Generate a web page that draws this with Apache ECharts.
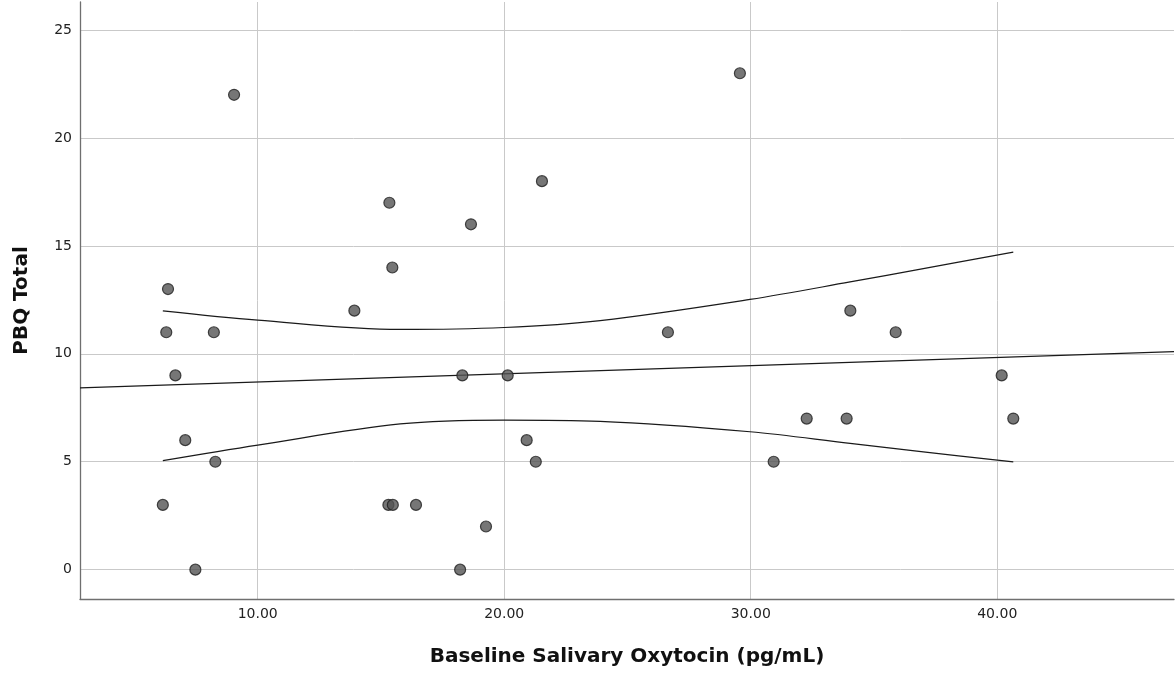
<!DOCTYPE html>
<html>
<head>
<meta charset="utf-8">
<title>PBQ Total vs Baseline Salivary Oxytocin</title>
<script src="https://cdn.jsdelivr.net/npm/echarts@6/dist/echarts.min.js"></script>
<style>
  html, body { margin: 0; padding: 0; background: #ffffff; }
  #chart { width: 1175px; height: 677px; }
</style>
</head>
<body>
<div id="chart"></div>
<script>
// Observations: baseline salivary oxytocin (pg/mL) and PBQ total score
const oxytocin = [9.04, 29.56, 15.34, 21.53, 18.65, 15.46, 6.36, 13.92, 6.29, 8.22,
                  26.64, 34.04, 35.88, 6.66, 18.30, 20.14, 40.18, 40.65, 32.27, 33.89,
                  7.06, 20.91, 8.28, 21.28, 30.93, 6.15, 15.30, 15.48, 16.42, 19.26,
                  7.47, 18.21];
const pbqTotal = [22, 23, 17, 18, 16, 14, 13, 12, 11, 11,
                  11, 12, 11, 9, 9, 9, 9, 7, 7, 7,
                  6, 6, 5, 5, 5, 3, 3, 3, 3, 2,
                  0, 0];

// Fitted linear regression line, across the full x range
const fitX = [2.79, 47.17];
const fitY = [8.42, 10.10];

// 95% confidence band of the mean, over the observed x range
const bandX = [6.15, 10.00, 15.78, 20.00, 23.89, 29.97, 34.03, 37.00, 40.65];
const upperY = [11.99, 11.56, 11.13, 11.22, 11.54, 12.52, 13.33, 13.95, 14.71];
const lowerY = [5.05, 5.77, 6.75, 6.93, 6.87, 6.39, 5.85, 5.46, 4.99];

// Axis ticks
const xTicks = [10, 20, 30, 40];
const yTicks = [0, 5, 10, 15, 20, 25];

const pair = (xs, ys) => xs.map((x, i) => [x, ys[i]]);

const chart = echarts.init(document.getElementById('chart'), null, { renderer: 'canvas' });

const labelFont = { fontFamily: 'DejaVu Sans', fontSize: 14, color: '#222' };
const titleFont = { fontFamily: 'DejaVu Sans', fontSize: 20, fontWeight: 'bold', color: '#111' };
const gridLine = { show: true, lineStyle: { color: '#c9c9c9', width: 1 } };

const lineStyle = { color: '#1a1a1a', width: 1.2 };

chart.setOption({
  animation: false,
  backgroundColor: '#ffffff',
  grid: { left: 80, right: 1, top: 2, bottom: 78, containLabel: false },
  xAxis: {
    type: 'value',
    min: 2.79,
    max: 47.17,
    name: 'Baseline Salivary Oxytocin (pg/mL)',
    nameLocation: 'middle',
    nameGap: 48,
    nameTextStyle: titleFont,
    axisLine: { show: true, onZero: false, lineStyle: { color: '#6f6f6f', width: 1.3 } },
    axisTick: { show: false, customValues: xTicks },
    axisLabel: { customValues: xTicks, margin: 8, formatter: v => v.toFixed(2), ...labelFont },
    splitLine: gridLine
  },
  yAxis: {
    type: 'value',
    min: -1.36,
    max: 26.3,
    name: 'PBQ Total',
    nameLocation: 'middle',
    nameGap: 48,
    nameTextStyle: titleFont,
    axisLine: { show: true, onZero: false, lineStyle: { color: '#6f6f6f', width: 1.3 } },
    axisTick: { show: false, customValues: yTicks },
    axisLabel: { customValues: yTicks, margin: 8, ...labelFont },
    splitLine: gridLine
  },
  series: [
    {
      type: 'line',
      data: pair(fitX, fitY),
      showSymbol: false,
      lineStyle: lineStyle,
      silent: true,
      z: 2
    },
    {
      type: 'line',
      data: pair(bandX, upperY),
      showSymbol: false,
      smooth: 0.35,
      lineStyle: lineStyle,
      silent: true,
      z: 2
    },
    {
      type: 'line',
      data: pair(bandX, lowerY),
      showSymbol: false,
      smooth: 0.35,
      lineStyle: lineStyle,
      silent: true,
      z: 2
    },
    {
      type: 'scatter',
      data: pair(oxytocin, pbqTotal),
      symbol: 'circle',
      symbolSize: 11,
      itemStyle: { color: '#545454', borderColor: '#1e1e1e', borderWidth: 1.2 },
      z: 3
    }
  ]
});
</script>
</body>
</html>
